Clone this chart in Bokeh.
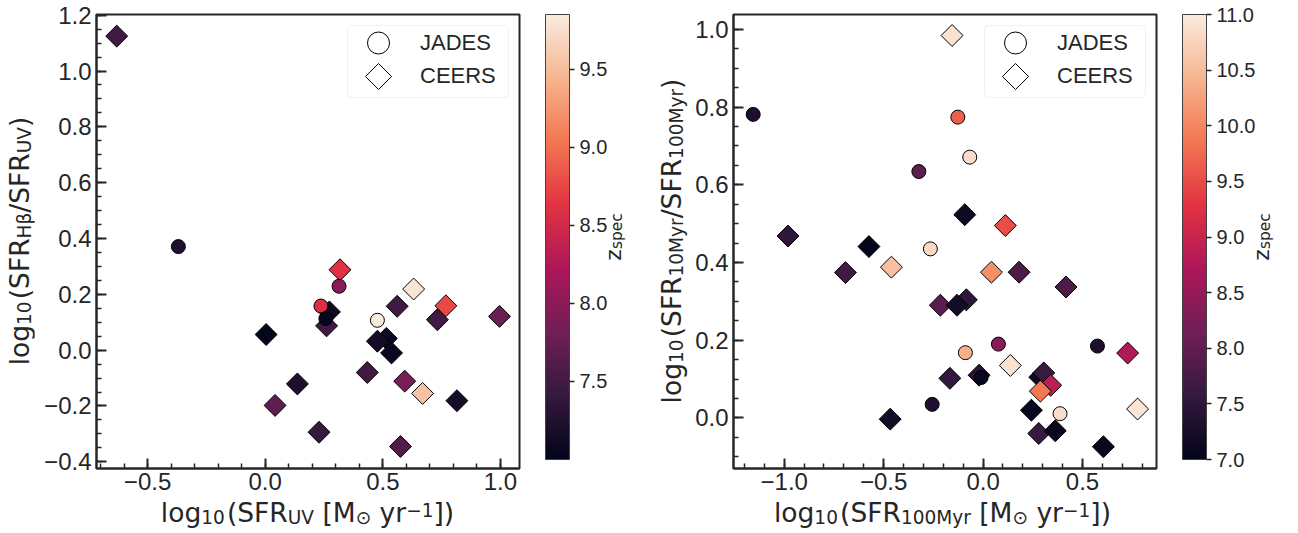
import numpy as np
from bokeh.plotting import figure
from bokeh.models import (Range1d, FixedTicker, CustomJSTickFormatter, LinearColorMapper, ColorBar,
                          PrintfTickFormatter, Legend, LegendItem, ColumnDataSource, BoxAnnotation, Div)
from bokeh.layouts import row, column
from bokeh.embed import file_html
from bokeh.resources import INLINE

# ---------------- data: left panel (SFR_UV) ----------------
jades_uv_x = [-0.369, 0.314, 0.237, 0.258, 0.477]
jades_uv_y = [0.371, 0.229, 0.158, 0.113, 0.107]
jades_uv_z = [7.23, 8.00, 8.57, 7.02, 9.85]

ceers_uv_x = [-0.631, 0.004, 0.137, 0.042, 0.229, 0.273, 0.261, 0.318, 0.434, 0.515, 0.537,
              0.477, 0.561, 0.631, 0.732, 0.768, 0.996, 0.593, 0.669, 0.815, 0.575]
ceers_uv_y = [1.125, 0.056, -0.121, -0.198, -0.294, 0.137, 0.087, 0.288, -0.080, 0.042, -0.010,
              0.032, 0.157, 0.219, 0.109, 0.159, 0.121, -0.111, -0.155, -0.181, -0.345]
ceers_uv_z = [7.48, 7.02, 7.22, 7.68, 7.42, 7.10, 7.48, 8.62, 7.48, 7.10, 7.05,
              7.15, 7.48, 9.80, 7.48, 8.77, 7.77, 7.88, 9.54, 7.15, 7.60]

# ---------------- data: right panel (SFR_100Myr) ----------------
jades_100_x = [-1.156, -0.127, -0.067, -0.323, -0.265, -0.089, -0.256, 0.077, 0.575, -0.010, 0.387]
jades_100_y = [0.781, 0.774, 0.671, 0.634, 0.435, 0.168, 0.035, 0.190, 0.185, 0.104, 0.011]
jades_100_z = [7.30, 9.65, 10.85, 7.98, 10.80, 10.40, 7.30, 8.40, 7.30, 7.05, 10.85]

ceers_100_x = [-0.156, -0.092, -0.981, -0.574, -0.461, 0.112, -0.692, -0.215, -0.084, -0.131,
               -0.167, -0.467, 0.042, 0.181, 0.417, 0.727, 0.137, -0.020, 0.285, 0.305,
               0.340, 0.288, 0.243, 0.777, 0.280, 0.363, 0.605]
ceers_100_y = [0.984, 0.523, 0.468, 0.441, 0.388, 0.495, 0.374, 0.290, 0.304, 0.290,
               0.102, -0.003, 0.375, 0.375, 0.337, 0.167, 0.135, 0.110, 0.105, 0.116,
               0.084, 0.069, 0.020, 0.023, -0.040, -0.033, -0.074]
ceers_100_z = [10.90, 7.15, 7.50, 7.00, 10.55, 9.50, 7.70, 7.95, 7.50, 7.20,
               7.55, 7.20, 10.10, 7.80, 7.80, 8.78, 10.90, 7.45, 7.15, 7.60,
               8.88, 9.86, 7.05, 10.95, 7.60, 7.10, 7.05]

left_xticks = [-0.5, 0.0, 0.5, 1.0]
left_yticks = [-0.4, -0.2, 0.0, 0.2, 0.4, 0.6, 0.8, 1.0, 1.2]
right_xticks = [-1.0, -0.5, 0.0, 0.5]
right_yticks = [0.0, 0.2, 0.4, 0.6, 0.8, 1.0]
left_cb_ticks = [7.5, 8.0, 8.5, 9.0, 9.5]
right_cb_ticks = [7.0, 7.5, 8.0, 8.5, 9.0, 9.5, 10.0, 10.5, 11.0]
legend_labels = ["JADES", "CEERS"]

# ---------------- rocket colormap ----------------
rocket_anchor_pos = [0.0, 1/7, 2/7, 3/7, 4/7, 5/7, 6/7, 1.0]
rocket_anchor_hex = ["#03051a", "#35193e", "#701f57", "#ad1759", "#e13342", "#f37651", "#f6b48f", "#faebdd"]


def build_palette(n=256):
    rgb = np.array([[int(h[i:i + 2], 16) for i in (1, 3, 5)] for h in rocket_anchor_hex], float)
    out = []
    for v in np.linspace(0, 1, n):
        c = [np.interp(v, rocket_anchor_pos, rgb[:, k]) for k in range(3)]
        out.append("#%02x%02x%02x" % tuple(int(round(x)) for x in c))
    return out


ROCKET = build_palette()
INK = "#262626"
FW, FH = 423, 454
NAN = float("nan")

minus_fmt = CustomJSTickFormatter(code="return (tick < -1e-9 ? '\\u2212' : '') + Math.abs(tick).toFixed(1);")


# ---------------- html helpers for math-like labels ----------------
def sub(t):
    return '<span style="font-size:70%;vertical-align:-0.1em;line-height:1">' + t + '</span>'


def sup(t):
    return '<span style="font-size:70%;vertical-align:0.26em;line-height:1">' + t + '</span>'


def placed(html, X, Y, fs, rotate):
    tr = "translate(-50%,-50%) rotate(-90deg)" if rotate else "translate(-50%,-50%)"
    return ('<span style="position:absolute;left:%.1fpx;top:%.1fpx;transform:%s;white-space:nowrap;'
            'display:inline-block;line-height:1;font-family:\'DejaVu Sans\';font-size:%.1fpx;color:%s">%s</span>'
            % (X, Y, tr, fs, INK, html))


def label_div(spans, w, h):
    return Div(text='<div style="position:relative;width:%dpx;height:%dpx">%s</div>' % (w, h, "".join(spans)),
               width=w, height=h, margin=0)


LOG = "log" + sub("10") + '<span style="margin-left:0.08em">(</span>'
UNIT = " [M" + sub("&#8857;") + " yr" + sup("&minus;1") + "])"
xlab_left = LOG + "SFR" + sub("UV") + UNIT
ylab_left = LOG + "SFR" + sub("H&beta;") + "/SFR" + sub("UV") + ")"
xlab_right = LOG + "SFR" + sub("100Myr") + UNIT
ylab_right = LOG + "SFR" + sub("10Myr") + "/SFR" + sub("100Myr") + ")"
zlab = "z" + sub("spec")


def make_fig(xr, yr, mbl, mbr, xt, yt, xminor, yminor):
    p = figure(frame_width=FW, frame_height=FH, min_border_left=mbl, min_border_right=mbr,
               min_border_top=14, min_border_bottom=33, x_range=Range1d(*xr), y_range=Range1d(*yr),
               output_backend="svg", toolbar_location=None,
               background_fill_color="white", border_fill_color="white")
    p.extra_x_ranges = {"lx": Range1d(0, FW)}
    p.extra_y_ranges = {"ly": Range1d(0, FH)}
    p.grid.visible = False
    p.outline_line_color = INK
    p.outline_line_width = 2
    p.outline_line_alpha = 1
    p.xaxis.ticker = FixedTicker(ticks=xt, minor_ticks=xminor)
    p.yaxis.ticker = FixedTicker(ticks=yt, minor_ticks=yminor)
    for ax in (p.xaxis[0], p.yaxis[0]):
        ax.formatter = minus_fmt
        ax.axis_line_color = INK
        ax.axis_line_width = 2
        ax.major_tick_line_color = INK
        ax.major_tick_line_width = 2
        ax.minor_tick_line_color = INK
        ax.minor_tick_line_width = 1.5
        ax.major_tick_in = 10
        ax.major_tick_out = 0
        ax.minor_tick_in = 5
        ax.minor_tick_out = 0
        ax.major_label_text_font = "Liberation Sans"
        ax.major_label_text_font_size = "24px"
        ax.major_label_text_color = INK
    p.xaxis.major_label_standoff = 4
    p.yaxis.major_label_standoff = 5
    return p


def add_points(p, mapper, jx, jy, jz, cx, cy, cz):
    csrc = ColumnDataSource(dict(x=cx, y=cy, z=cz))
    jsrc = ColumnDataSource(dict(x=jx, y=jy, z=jz))
    p.scatter("x", "y", source=csrc, marker="square", angle=np.pi / 4, size=15.5,
              fill_color={"field": "z", "transform": mapper}, line_color="black", line_width=1)
    p.scatter("x", "y", source=jsrc, marker="circle", size=14,
              fill_color={"field": "z", "transform": mapper}, line_color="black", line_width=1)
    # legend key renderers (white fill, black edge)
    rj = p.scatter(x=[NAN], y=[NAN], marker="circle", size=14, fill_color="white",
                   line_color="black", line_width=1)
    rc = p.scatter(x=[NAN], y=[NAN], marker="square", size=15.5, fill_alpha=0, line_alpha=0)
    box = BoxAnnotation(left=251, right=412, top=443, bottom=371, left_units="screen", right_units="screen",
                        top_units="screen", bottom_units="screen", fill_color="white", fill_alpha=0.8,
                        line_color="#cccccc", line_width=1, border_radius=4)
    p.add_layout(box)
    for lab, rend, ybot in ((legend_labels[0], rj, 398), (legend_labels[1], rc, 365)):
        leg = Legend(items=[LegendItem(label=lab, renderers=[rend])], location=(243, ybot), margin=0,
                     padding=0, glyph_width=78, glyph_height=55, label_height=55, label_width=95,
                     label_standoff=3, label_text_font="Liberation Sans", label_text_font_size="22px",
                     label_text_color=INK, label_text_baseline="middle", border_line_color=None,
                     background_fill_alpha=0)
        p.add_layout(leg)
    # rotated-square key for CEERS (legend draws markers unrotated), in frame-pixel range
    key = p.scatter(x=[282], y=[FH - 62], x_range_name="lx", y_range_name="ly", marker="square",
                    angle=np.pi / 4, size=18.4, fill_color="white", line_color="black", line_width=1)
    key.level = "overlay"


def add_cbar(p, mapper, ticks):
    cb = ColorBar(color_mapper=mapper, ticker=FixedTicker(ticks=ticks),
                  formatter=PrintfTickFormatter(format="%.1f"), width=24, height=445,
                  location=(26, 9), padding=0, margin=0, major_tick_out=5, major_tick_in=0,
                  major_tick_line_color=INK, major_tick_line_width=1.5, minor_tick_line_color=None,
                  bar_line_color="#404040", bar_line_width=1, major_label_text_font="Liberation Sans",
                  major_label_text_font_size="20px", major_label_text_color=INK, label_standoff=5,
                  background_fill_alpha=0, border_line_color=None)
    p.add_layout(cb, "right")


# ---------------- left panel ----------------
map_l = LinearColorMapper(palette=ROCKET, low=7.0, high=9.85)
p1 = make_fig((-0.717, 1.081), (-0.424, 1.2025), 62, 89, left_xticks, left_yticks,
              [round(v, 2) for v in np.arange(-0.7, 1.08, 0.1)],
              [round(v, 3) for v in np.arange(-0.4, 1.21, 0.05)])
add_points(p1, map_l, jades_uv_x, jades_uv_y, jades_uv_z, ceers_uv_x, ceers_uv_y, ceers_uv_z)
add_cbar(p1, map_l, left_cb_ticks)

# ---------------- right panel ----------------
map_r = LinearColorMapper(palette=ROCKET, low=7.0, high=11.0)
p2 = make_fig((-1.255, 0.872), (-0.130, 1.038), 45, 100, right_xticks, right_yticks,
              [round(v, 2) for v in np.arange(-1.2, 0.88, 0.1)],
              [round(v, 3) for v in np.arange(-0.1, 1.04, 0.05)])
add_points(p2, map_r, jades_100_x, jades_100_y, jades_100_z, ceers_100_x, ceers_100_y, ceers_100_z)
add_cbar(p2, map_r, right_cb_ticks)

# ---------------- label strips ----------------
LAB = 26.5
ZS = 22
FIG_H = 14 + FH + 33
div_l = label_div([placed(ylab_left, 30 - 0.346 * LAB, 241, LAB, True)], 34, FIG_H)
div_m = label_div([placed(zlab, 620 - 0.346 * ZS - 608, 236.5, ZS, True),
                   placed(ylab_right, 680 - 0.346 * LAB - 608, 241, LAB, True)], 78, FIG_H)
div_r = label_div([placed(zlab, 1266 - 0.346 * ZS - 1254, 236.5, ZS, True)], 44, FIG_H)
div_b = label_div([placed(xlab_left, 307.5, 523 - 0.346 * LAB - FIG_H, LAB, False),
                   placed(xlab_right, 942.5, 523 - 0.346 * LAB - FIG_H, LAB, False)], 1298, 533 - FIG_H)

layout = column(row(div_l, p1, div_m, p2, div_r, spacing=0), div_b, spacing=0)
open("out.html", "w", encoding="utf-8").write(file_html(layout, INLINE))
